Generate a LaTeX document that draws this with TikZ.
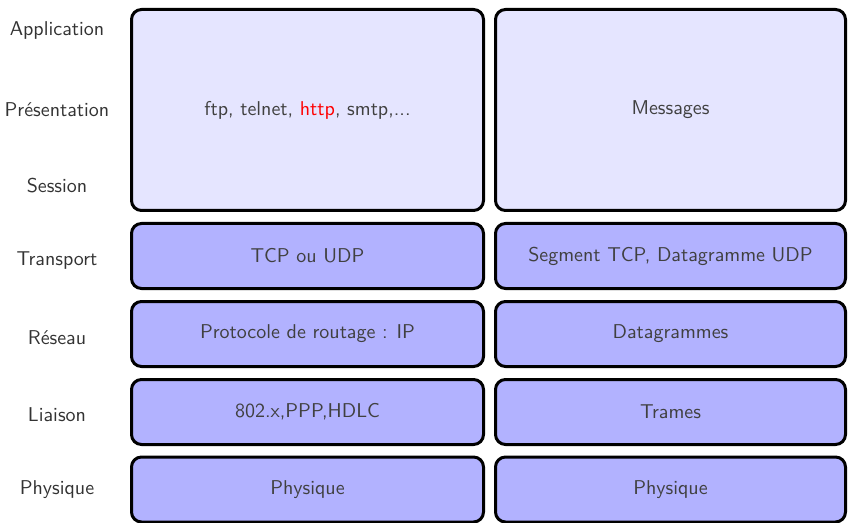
\documentclass[tikz,border=0pt]{standalone}
\usepackage{xcolor}
\begin{document}
\begin{tikzpicture}[x=0.5pt,y=-0.5pt,
  layer/.style={draw=black,line width=1.5pt,rounded corners=5pt,inner sep=0pt,
    font=\sffamily,text=black!75},
  upper/.style={layer,fill=blue!10},
  lower/.style={layer,fill=blue!30},
  lab/.style={font=\sffamily,text=black!80}]
\useasboundingbox (0,0) rectangle (849,523);
% left column labels
\node[lab] (lapp) at (57,31) {Application};
\node[lab] (lpre) at (57,110) {Présentation};
\node[lab] (lses) at (57,186) {Session};
\node[lab] (ltra) at (57,261) {Transport};
\node[lab] (lres) at (57,338) {Réseau};
\node[lab] (llia) at (57,415) {Liaison};
\node[lab] (lphy) at (57,490) {Physique};
% protocol column
\node[upper,minimum width=176pt,minimum height=100.5pt] (p1) at (307.5,110) {ftp, telnet, \textcolor{red}{http}, smtp,...};
\node[lower,minimum width=176pt,minimum height=32.5pt] (p2) at (307.5,256) {TCP ou UDP};
\node[lower,minimum width=176pt,minimum height=32.5pt] (p3) at (307.5,334) {Protocole de routage : IP};
\node[lower,minimum width=176pt,minimum height=32.5pt] (p4) at (307.5,412) {802.x,PPP,HDLC};
\node[lower,minimum width=176pt,minimum height=32.5pt] (p5) at (307.5,489.5) {Physique};
% data unit column
\node[upper,minimum width=175pt,minimum height=100.5pt] (d1) at (670.5,110) {Messages};
\node[lower,minimum width=175pt,minimum height=32.5pt] (d2) at (670.5,256) {Segment TCP, Datagramme UDP};
\node[lower,minimum width=175pt,minimum height=32.5pt] (d3) at (670.5,334) {Datagrammes};
\node[lower,minimum width=175pt,minimum height=32.5pt] (d4) at (670.5,412) {Trames};
\node[lower,minimum width=175pt,minimum height=32.5pt] (d5) at (670.5,489.5) {Physique};
\end{tikzpicture}
\end{document}
